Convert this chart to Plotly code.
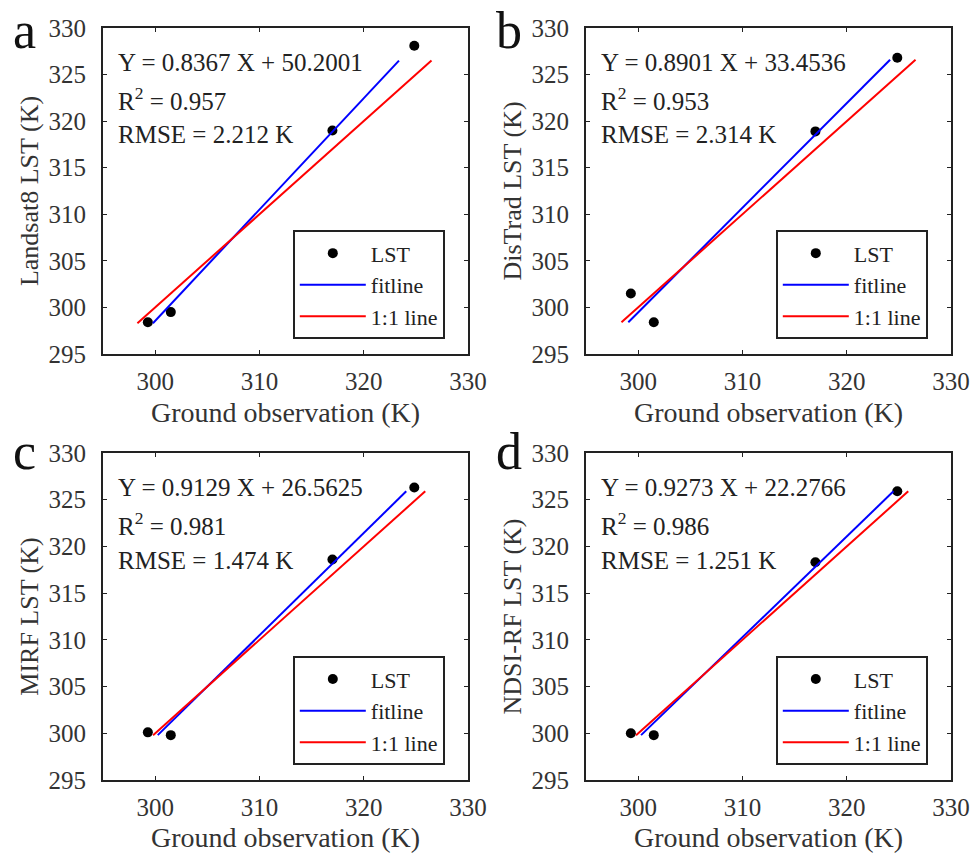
import plotly.graph_objects as go

# ---------------- data ----------------
panel_letters = ["a", "b", "c", "d"]
y_titles = ["Landsat8 LST (K)", "DisTrad LST (K)", "MIRF LST (K)", "NDSI-RF LST (K)"]

ground_obs = [299.3, 301.5, 317.0, 324.85]
landsat8_lst = [298.4, 299.5, 319.0, 328.1]
distrad_lst = [301.5, 298.4, 318.9, 326.8]
mirf_lst = [300.1, 299.8, 318.6, 326.3]
ndsirf_lst = [300.0, 299.8, 318.3, 325.9]
est_series = [landsat8_lst, distrad_lst, mirf_lst, ndsirf_lst]

fit_slope = [0.8367, 0.8901, 0.9129, 0.9273]
fit_intercept = [50.2001, 33.4536, 26.5625, 22.2766]
r2_values = ["0.957", "0.953", "0.981", "0.986"]
rmse_values = ["2.212", "2.314", "1.474", "1.251"]
line_y_lo = [298.3, 298.4, 299.8, 299.8]
line_y_hi = [326.5, 326.6, 325.9, 325.9]

x_ticks = [300, 310, 320, 330]
y_ticks = [295, 300, 305, 310, 315, 320, 325, 330]
axis_range = [295, 330]

# ---------------- layout geometry ----------------
W, H = 974, 853
FONT = "Liberation Serif"
AX = "#222222"
x_domains = [[103 / W, 468 / W], [586 / W, 951 / W]]
y_domains = [[1 - 354 / H, 1 - 28 / H], [1 - 780 / H, 1 - 453 / H]]
letter_mid_px = [30, 451]

fig = go.Figure()
layout_axes = {}
annotations = []

for i in range(4):
    row, col = divmod(i, 2)
    n = i + 1
    xa = "x" if n == 1 else f"x{n}"
    ya = "y" if n == 1 else f"y{n}"
    leg = "legend" if n == 1 else f"legend{n}"

    est = est_series[i]
    # fit line: ground = slope * est + intercept, drawn over estimate range
    ly = [line_y_lo[i], line_y_hi[i]]
    lx_fit = [fit_slope[i] * v + fit_intercept[i] for v in ly]
    lx_11 = ly

    fig.add_trace(go.Scatter(
        x=ground_obs, y=est, mode="markers", name="LST",
        marker=dict(color="black", size=10),
        xaxis=xa, yaxis=ya, legend=leg, cliponaxis=False))
    fig.add_trace(go.Scatter(
        x=lx_fit, y=ly, mode="lines", name="fitline",
        line=dict(color="#0000ff", width=2),
        xaxis=xa, yaxis=ya, legend=leg))
    fig.add_trace(go.Scatter(
        x=lx_11, y=ly, mode="lines", name="1:1 line",
        line=dict(color="#ff0000", width=2),
        xaxis=xa, yaxis=ya, legend=leg))

    xkey = "xaxis" if n == 1 else f"xaxis{n}"
    ykey = "yaxis" if n == 1 else f"yaxis{n}"
    common = dict(
        range=axis_range, showgrid=False, zeroline=False,
        showline=True, linecolor=AX, linewidth=2, mirror="ticks",
        ticks="inside", ticklen=4, tickwidth=1, tickcolor=AX,
        tickfont=dict(family=FONT, size=25, color="#333333"),
        automargin=False,
    )
    layout_axes[xkey] = dict(
        common, domain=x_domains[col], anchor=ya,
        tickmode="array", tickvals=x_ticks, ticktext=[str(v) for v in x_ticks],
        ticklabelstandoff=4,
        title=dict(text="Ground observation (K)",
                   font=dict(family=FONT, size=28, color="#333333"),
                   standoff=8),
    )
    layout_axes[ykey] = dict(
        common, domain=y_domains[row], anchor=xa,
        tickmode="array", tickvals=y_ticks, ticktext=[str(v) for v in y_ticks],
        ticklabelstandoff=10,
        title=dict(text=y_titles[i],
                   font=dict(family=FONT, size=26, color="#333333"),
                   standoff=2),
    )

    xd = x_domains[col]
    yd = y_domains[row]
    layout_axes[leg] = dict(
        x=xd[0] + 0.52 * (xd[1] - xd[0]),
        y=yd[0] + 0.045 * (yd[1] - yd[0]),
        xanchor="left", yanchor="bottom",
        xref="paper", yref="paper",
        bgcolor="white", bordercolor=AX, borderwidth=2,
        font=dict(family=FONT, size=22, color="#222222"),
        itemwidth=66, tracegroupgap=0,
    )

    xdom = f"{xa} domain"
    ydom = f"{ya} domain"
    stats_text = [
        f"Y = {fit_slope[i]:.4f} X + {fit_intercept[i]:.4f}",
        f"R<sup>2</sup> = {r2_values[i]}",
        f"RMSE = {rmse_values[i]} K",
    ]
    stats_y = [0.893, 0.782, 0.672]
    for t, yy in zip(stats_text, stats_y):
        annotations.append(dict(
            text=t, xref=xdom, yref=ydom, x=0.035, y=yy,
            xanchor="left", yanchor="middle", showarrow=False,
            font=dict(family=FONT, size=25, color="#222222")))

    # panel letter
    annotations.append(dict(
        text=panel_letters[i], xref="paper", yref="paper",
        x=(x_domains[col][0] * W - 92) / W,
        y=1 - letter_mid_px[row] / H,
        xanchor="left", yanchor="middle", showarrow=False,
        font=dict(family=FONT, size=52, color="#111111")))

fig.update_layout(
    width=W, height=H,
    margin=dict(l=0, r=0, t=0, b=0, autoexpand=False),
    paper_bgcolor="white", plot_bgcolor="white",
    showlegend=True,
    annotations=annotations,
    **layout_axes,
)

fig.write_html("out.html")
